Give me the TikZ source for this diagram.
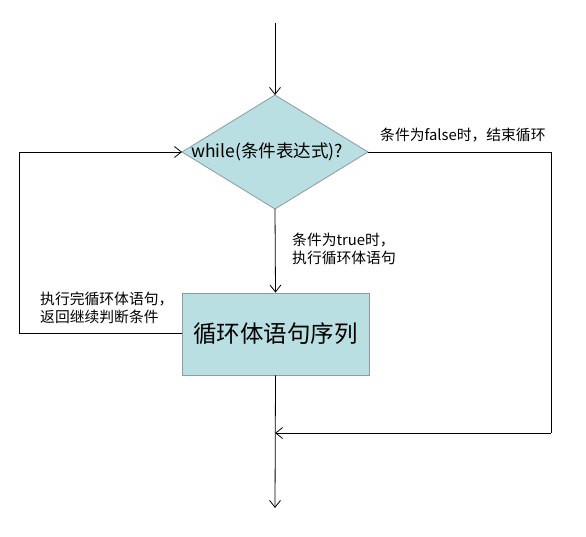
\documentclass[tikz,border=0pt]{standalone}
\usepackage{fontspec}
\setmainfont{Liberation Sans}
\newfontfamily\cjk{Noto Sans CJK SC}
\usetikzlibrary{arrows.meta,shapes.geometric}
\definecolor{boxfill}{HTML}{B9DFE3}
\definecolor{boxline}{HTML}{8C9C9E}
\tikzset{
  flow/.style={draw=black, line width=0.8pt, -{Straight Barb[length=7pt,width=11pt,line width=0.8pt]}},
  plain/.style={draw=black, line width=0.8pt},
  lbl/.style={font=\cjk\fontsize{14.8}{17.5}\selectfont, align=left, inner sep=0pt},
}
\begin{document}
\begin{tikzpicture}[x=1pt,y=-1pt]
\useasboundingbox (0,0) rectangle (586,537);
% diamond
\filldraw[fill=boxfill, draw=boxline, line width=0.8pt] (275,95) -- (368,152) -- (275,209) -- (182,152) -- cycle;
\coordinate (dtop) at (275,95);
\coordinate (dbot) at (275,209);
\coordinate (dleft) at (182,152);
\coordinate (dright) at (368,152);
\node[font=\cjk\fontsize{17.5}{20}\selectfont, inner sep=0pt] (cond) at (267,152) {while(条件表达式)?};
% rectangle
\node[draw=boxline, fill=boxfill, line width=0.8pt, minimum width=187pt, minimum height=82pt, inner sep=0pt,
      font=\cjk\fontsize{23.5}{28}\selectfont] (body) at (275.5,334) {循环体语句序列};
% coordinates
\coordinate (start) at (275,23);
\coordinate (rr) at (551,152);
\coordinate (rb) at (551,433);
\coordinate (join) at (275,433);
\coordinate (lb) at (19,333);
\coordinate (lt) at (19,152);
\coordinate (endp) at (275,508);
% connectors
\draw[flow] (start) -- (dtop);
\draw[flow] (dbot) -- (body.north);
\draw[plain] (dright) -- (rr) -- (rb);
\draw[flow] (rb) -- (join);
\draw[plain] (body.west |- lb) -- (lb) -- (lt);
\draw[flow] (lt) -- (dleft);
\draw[flow] (body.south) -- (endp);
% labels
\node[lbl, anchor=west] (lf) at (380,135) {条件为false时，结束循环};
\node[lbl, anchor=north west] (lt2) at (292,233) {条件为true时，\\执行循环体语句};
\node[lbl, anchor=north west] (lr) at (40,292) {执行完循环体语句，\\返回继续判断条件};
\end{tikzpicture}
\end{document}
